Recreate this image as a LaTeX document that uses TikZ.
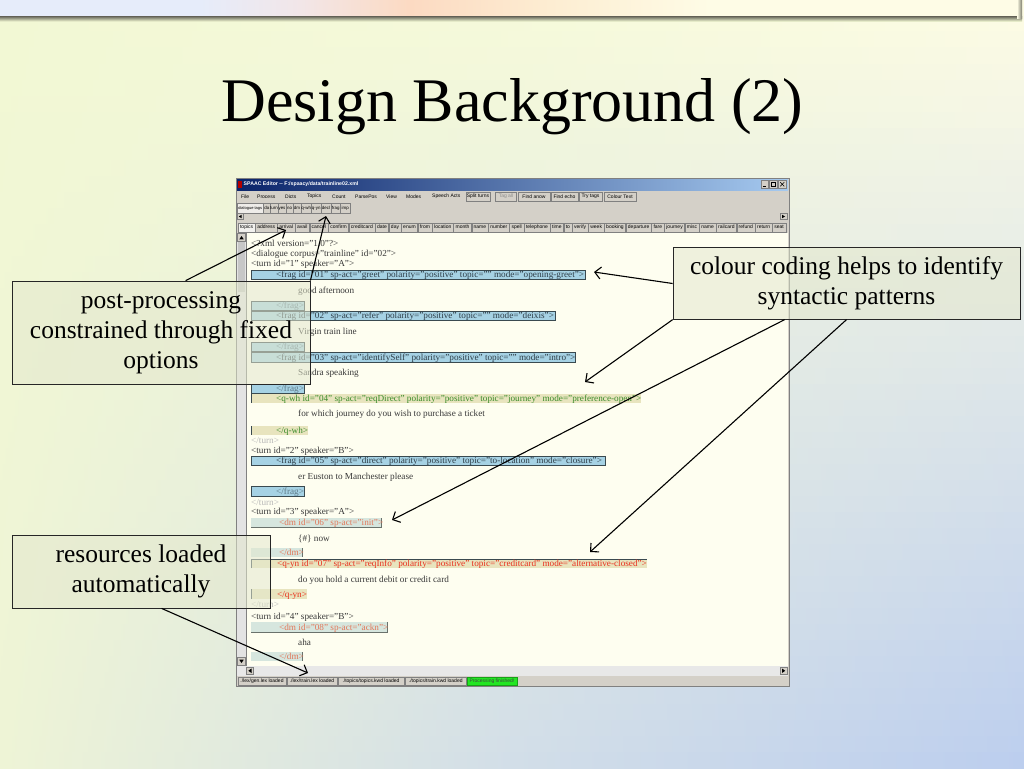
\documentclass[tikz,border=0pt]{standalone}
\usepackage{fontspec}
\setmainfont{Liberation Serif}
\newfontfamily\guifont{Liberation Sans}
\usetikzlibrary{arrows.meta}
\definecolor{bgUL}{HTML}{F2F8D4}
\definecolor{bgUM}{HTML}{F6FADA}
\definecolor{bgUR}{HTML}{FDFCE4}
\definecolor{bgLL}{HTML}{EEF4D6}
\definecolor{bgLM}{HTML}{D2DEE8}
\definecolor{bgLR}{HTML}{BCCEEE}
\definecolor{bnA}{HTML}{E6ECFA}
\definecolor{bnB}{HTML}{F2E6E8}
\definecolor{bnC}{HTML}{FCDAC2}
\definecolor{bnD}{HTML}{FDEDD2}
\definecolor{bnE}{HTML}{FEFCE6}
\definecolor{shadowc}{HTML}{7C7C6C}
\definecolor{guibg}{HTML}{D4D0C8}
\definecolor{guidark}{HTML}{808080}
\definecolor{tbL}{HTML}{0A246A}
\definecolor{tbR}{HTML}{A6CAF0}
\definecolor{paper}{HTML}{FEFEF0}
\definecolor{fragfill}{HTML}{A6D2E4}
\definecolor{fragline}{HTML}{3A4A50}
\definecolor{fragtxt}{HTML}{2E3E48}
\definecolor{fragclose}{HTML}{5E7A88}
\definecolor{tanfill}{HTML}{E8E4BE}
\definecolor{qwhtxt}{HTML}{3A8C2A}
\definecolor{qyntxt}{HTML}{E8301E}
\definecolor{dmfill}{HTML}{D6E6DE}
\definecolor{dmline}{HTML}{6A726C}
\definecolor{dmtxt}{HTML}{E2785A}
\definecolor{xmltxt}{HTML}{383838}
\definecolor{turngray}{HTML}{B8B8B8}
\definecolor{calloutfill}{HTML}{E4E8CE}
\definecolor{okgreen}{HTML}{22E622}
\newcommand\xmlsz{\fontsize{9.2}{10}\selectfont}
\newcommand\guisz{\guifont\fontsize{5}{6}\selectfont}
\newcommand\tabsz{\guifont\fontsize{5}{6}\selectfont}
\newcommand\tagsz{\guifont\fontsize{4.4}{5}\selectfont}
\newcommand\statsz{\guifont\fontsize{5}{6}\selectfont}
\begin{document}
\begin{tikzpicture}[x=1pt,y=-1pt,
  callout/.style={draw=black!85, line width=0.8pt, fill=calloutfill, fill opacity=0.55, text opacity=1, align=center, inner sep=0pt, font=\fontsize{25.5}{30}\selectfont},
  arr/.style={line width=1.1pt, -{Straight Barb[length=6pt,width=12pt,line width=1.1pt]}},
  xl/.style={anchor=base west, inner sep=0pt, font=\xmlsz, text=xmltxt},
  gui/.style={inner sep=0pt, font=\guisz, text=black, anchor=west},
  tabbox/.style={draw=guidark, fill=guibg, inner xsep=1.9pt, inner ysep=0pt, minimum height=9pt, text height=3.6pt, text depth=1pt, font=\tabsz, anchor=west},
  tagbox/.style={draw=guidark, fill=guibg, line width=0.4pt, inner sep=0pt, minimum height=9.5pt, text height=3.2pt, text depth=0.9pt, font=\tagsz},
  btn/.style={draw=guidark, fill=guibg, inner sep=0pt, minimum height=9.5pt, font=\guisz},
  pane/.style={draw=guidark, fill=guibg, inner sep=0pt, minimum height=8.5pt, font=\statsz},
  fragbox/.style={fill=fragfill, draw=fragline, line width=0.6pt},
  sbtn/.style={fill=guibg, draw=guidark, line width=0.4pt},
]
\useasboundingbox (0,0) rectangle (1024,768);
% ---------- background ----------
\foreach \i in {0,...,47}{
  \pgfmathtruncatemacro\p{\i/47*100}
  \shade[left color=bgLL!\p!bgUL, right color=bgLR!\p!bgUR, middle color=bgLM!\p!bgUM] (0,\i*16) rectangle (1024,\i*16+16.6);
}
% banner
\shade[left color=bnA,right color=bnA] (0,0) rectangle (200.5,17);
\shade[left color=bnA,right color=bnB] (200,0) rectangle (300.5,17);
\shade[left color=bnB,right color=bnC] (300,0) rectangle (410.5,17);
\shade[left color=bnC,right color=bnD] (410,0) rectangle (550.5,17);
\shade[left color=bnD,right color=bnE] (550,0) rectangle (710.5,17);
\shade[left color=bnE,right color=bnE] (710,0) rectangle (1019,17);
\shade[top color=shadowc, bottom color=bgUL] (0,17) rectangle (1022,21.5);
\shade[left color=bnE, right color=shadowc] (1017,0) rectangle (1022,19);
% ---------- title ----------
\node[font=\fontsize{62}{70}\selectfont, anchor=base, inner sep=0pt] (title) at (512.5,121) {Design Background (2)};
% ---------- window ----------
\fill[guibg] (236,178) rectangle (789,686);
\draw[guidark, line width=0.6pt] (236,178) rectangle (789,686);
\shade[left color=tbL, right color=tbR] (237,179) rectangle (788,190);
\fill[red!70!black] (237.5,181) rectangle (242,188);
\node[gui, text=white, font=\guifont\fontsize{5.2}{6}\selectfont\bfseries] (wtitle) at (243.5,184.6) {SPAAC Editor -{}- F:/spaacy/data/trainline02.xml};
\draw[sbtn] (761,180.5) rectangle (768.5,188);
\draw[sbtn] (769.5,180.5) rectangle (777,188);
\draw[sbtn] (778.5,180.5) rectangle (786,188);
\draw[black, line width=0.6pt] (762.8,186.3) -- (765.8,186.3);
\draw[black, line width=0.5pt] (771,182) rectangle (775.5,186.5);
\draw[black, line width=0.6pt] (780.3,182.2) -- (784.2,186.3) (780.3,186.3) -- (784.2,182.2);
% menu
\node[gui] (m1) at (241,196.5) {File};
\node[gui] (m2) at (257,196.5) {Process};
\node[gui] (m3) at (285,196.5) {Dicts};
\node[gui] (m4) at (307,196.5) {Topics};
\node[gui] (m5) at (332,196.5) {Count};
\node[gui] (m6) at (355,196.5) {ParsePos};
\node[gui] (m7) at (386,196.5) {View};
\node[gui] (m8) at (406,196.5) {Modes};
\node[gui] (m9) at (432,196.5) {Speech Acts};
\node[btn, minimum width=24pt] (b1) at (478,196.5) {Split turns};
\node[btn, minimum width=21pt, text=black!45] (b2) at (506,196.5) {Tag all};
\node[btn, minimum width=32pt] (b3) at (534,196.5) {Find anow};
\node[btn, minimum width=27pt] (b4) at (564.5,196.5) {Find echo};
\node[btn, minimum width=23pt] (b5) at (590.5,196.5) {Try tags};
\node[btn, minimum width=32pt] (b6) at (620,196.5) {Colour Text};
% dialogue tag tabs
\node[tagbox, fill=white!60!guibg, minimum width=26.5pt, font=\guifont\fontsize{4}{5}\selectfont] (dt1) at (250.25,208) {dialogue tags};
\foreach \a/\b/\t [count=\k from 2] in {263.5/270/da,270/278/turn,278/286/yes,286/293/no,293/301/dm,301/311.5/q-wh,311.5/321/q-yn,321/331/decl,331/340.5/frag,340.5/350/imp}{
  \node[tagbox, minimum width={(\b-\a)*1pt}] (dt\k) at ({(\a+\b)/2},208) {\t};
}
% small scroll row
\draw[sbtn] (237,213.5) rectangle (243.5,219.5);
\fill[black] (241.5,214.8) -- (238.8,216.5) -- (241.5,218.2) -- cycle;
\draw[sbtn] (780,213.5) rectangle (787,219.5);
\fill[black] (782.2,214.8) -- (785,216.5) -- (782.2,218.2) -- cycle;
% topic tabs
\node[tabbox, fill=white!70!guibg] (t1) at (238,227.5) {topics};
\foreach \w [count=\k from 2, remember=\k as \j (initially 1)] in {address,arrival,avail,cancel,confirm,creditcard,date,day,enum,from,location,month,name,number,spell,telephone,time,to,verify,week,booking,departure,fare,journey,misc,name,railcard,refund,return,seat}{
  \node[tabbox] (t\k) at (t\j.east) {\w};
}
% ---------- content area ----------
\fill[paper] (246,233) rectangle (787.5,666);
\fill[black!11] (237,233) rectangle (246,666);
\fill[black!22] (237.8,242) rectangle (245.2,292);
\draw[sbtn] (237.5,233.5) rectangle (245.5,241.5);
\fill[black] (239.3,239.3) -- (241.5,236) -- (243.7,239.3) -- cycle;
\draw[sbtn] (237.5,657.5) rectangle (245.5,665.5);
\fill[black] (239.3,659.7) -- (241.5,663) -- (243.7,659.7) -- cycle;
\draw[guidark, line width=0.5pt] (246,233) -- (246,666);
\fill[black!9] (237,666) rectangle (788,676);
\draw[sbtn] (246.5,667) rectangle (253.5,674.5);
\fill[black] (251.5,668.5) -- (248.3,670.75) -- (251.5,673) -- cycle;
\draw[sbtn] (780,667) rectangle (787,674.5);
\fill[black] (782,668.5) -- (785.2,670.75) -- (782,673) -- cycle;
% status bar
\node[pane, minimum width=48pt] (s1) at (262,681) {./lex/gen.lex loaded};
\node[pane, minimum width=50pt] (s2) at (312,681) {./lex/train.lex loaded};
\node[pane, minimum width=66pt] (s3) at (371,681) {./topics/topics.kwd loaded};
\node[pane, minimum width=61.5pt] (s4) at (435.75,681) {./topics/train.kwd loaded};
\node[pane, minimum width=50pt, fill=okgreen, draw=okgreen!70!black, text=black!75] (s5) at (492,681) {Processing finished!};
% ---------- XML text ----------
\node[xl] (l1) at (251,246) {<?xml version="1.0"?>};
\node[xl] (l2) at (251,256) {<dialogue corpus="trainline" id="02">};
\node[xl] (l3) at (251,266) {<turn id="1" speaker="A">};
\filldraw[fragbox] (251,270) rectangle (585,279);
\node[xl, text=fragtxt] (l4) at (276,277.5) {<frag id="01" sp-act="greet" polarity="positive" topic="" mode="opening-greet">};
\node[xl] (l5) at (298,293) {good afternoon};
\filldraw[fragbox] (251,301) rectangle (304,310);
\node[xl, text=fragclose] (l6) at (276,308.5) {</frag>};
\filldraw[fragbox] (251,311) rectangle (555,320);
\node[xl, text=fragtxt] (l7) at (276,318.5) {<frag id="02" sp-act="refer" polarity="positive" topic="" mode="deixis">};
\node[xl] (l8) at (298,334) {Virgin train line};
\filldraw[fragbox] (251,342) rectangle (304,351);
\node[xl, text=fragclose] (l9) at (276,349.5) {</frag>};
\filldraw[fragbox] (251,352) rectangle (575,362);
\node[xl, text=fragtxt] (l10) at (276,360) {<frag id="03" sp-act="identifySelf" polarity="positive" topic="" mode="intro">};
\node[xl] (l11) at (298,375) {Sandra speaking};
\filldraw[fragbox] (251,384) rectangle (304,393);
\node[xl, text=fragclose] (l12) at (276,391.5) {</frag>};
\fill[tanfill] (251,394) rectangle (641,403);
\draw[fragline, line width=0.6pt] (251,394) -- (251,403);
\node[xl, text=qwhtxt] (l13) at (276,401.5) {<q-wh id="04" sp-act="reqDirect" polarity="positive" topic="journey" mode="preference-open">};
\node[xl] (l14) at (298,416) {for which journey do you wish to purchase a ticket};
\fill[tanfill] (251,426) rectangle (308,435);
\draw[fragline, line width=0.6pt] (251,426) -- (251,435);
\node[xl, text=qwhtxt] (l15) at (276,433.5) {</q-wh>};
\node[xl, text=turngray] (l16) at (251,443) {</turn>};
\node[xl] (l17) at (251,453) {<turn id="2" speaker="B">};
\filldraw[fragbox] (251,456) rectangle (605,465);
\node[xl, text=fragtxt] (l18) at (276,463.5) {<frag id="05" sp-act="direct" polarity="positive" topic="to-location" mode="closure">};
\node[xl] (l19) at (298,479) {er Euston to Manchester please};
\filldraw[fragbox] (251,486) rectangle (304,496);
\node[xl, text=fragclose] (l20) at (276,494) {</frag>};
\node[xl, text=turngray] (l21) at (251,505) {</turn>};
\node[xl] (l22) at (251,514) {<turn id="3" speaker="A">};
\fill[dmfill] (251,518) rectangle (381,527);
\draw[dmline, line width=0.6pt] (251,527) -- (381,527) -- (381,518);
\node[xl, text=dmtxt] (l23) at (279,525.5) {<dm id="06" sp-act="init">};
\node[xl] (l24) at (298,541) {\{\#\} now};
\fill[dmfill] (251,548) rectangle (302,557);
\draw[dmline, line width=0.6pt] (302,548) -- (302,557);
\node[xl, text=dmtxt] (l25) at (279,555.5) {</dm>};
\fill[tanfill] (251,559) rectangle (647,568);
\draw[fragline, line width=0.6pt] (251,568) -- (251,559) -- (647,559);
\node[xl, text=qyntxt] (l26) at (277,566.5) {<q-yn id="07" sp-act="reqInfo" polarity="positive" topic="creditcard" mode="alternative-closed">};
\node[xl] (l27) at (298,582) {do you hold a current debit or credit card};
\fill[tanfill] (251,589) rectangle (307,599);
\draw[fragline, line width=0.6pt] (251,589) -- (251,599);
\node[xl, text=qyntxt] (l28) at (277,597) {</q-yn>};
\node[xl, text=turngray] (l29) at (251,607) {</turn>};
\node[xl] (l30) at (251,619) {<turn id="4" speaker="B">};
\fill[dmfill] (251,622) rectangle (387,632);
\draw[dmline, line width=0.6pt] (251,632) -- (387,632) -- (387,622);
\node[xl, text=dmtxt] (l31) at (279,630) {<dm id="08" sp-act="ackn">};
\node[xl] (l32) at (298,645) {aha};
\fill[dmfill] (251,652) rectangle (302,661);
\draw[dmline, line width=0.6pt] (302,652) -- (302,661);
\node[xl, text=dmtxt] (l33) at (279,659.5) {</dm>};
% ---------- callouts ----------
\node[callout, minimum width=298pt, minimum height=103pt] (pp) at (161,332.5) {post-processing\\constrained through fixed\\options};
\node[callout, minimum width=347pt, minimum height=71.5pt] (cc) at (846.5,283.5) {colour coding helps to identify\\syntactic patterns};
\node[callout, minimum width=258pt, minimum height=73pt] (rl) at (141,571.5) {resources loaded\\automatically};
% ---------- arrows ----------
\coordinate (a1) at (286,230);
\coordinate (a2) at (326,216);
\coordinate (a3) at (594,272);
\coordinate (a4) at (585,382);
\coordinate (a5) at (392,520);
\coordinate (a6) at (590,552);
\coordinate (a7) at (308,673);
\draw[arr] ([xshift=174pt]pp.north west) -- (a1);
\draw[arr] (pp.north east) -- (a2);
\draw[arr] (cc.west) -- (a3);
\draw[arr] (cc.south west) -- (a4);
\draw[arr] ([xshift=112pt]cc.south west) -- (a5);
\draw[arr] (cc.south) -- (a6);
\draw[arr] ([xshift=150pt]rl.south west) -- (a7);
\end{tikzpicture}
\end{document}
